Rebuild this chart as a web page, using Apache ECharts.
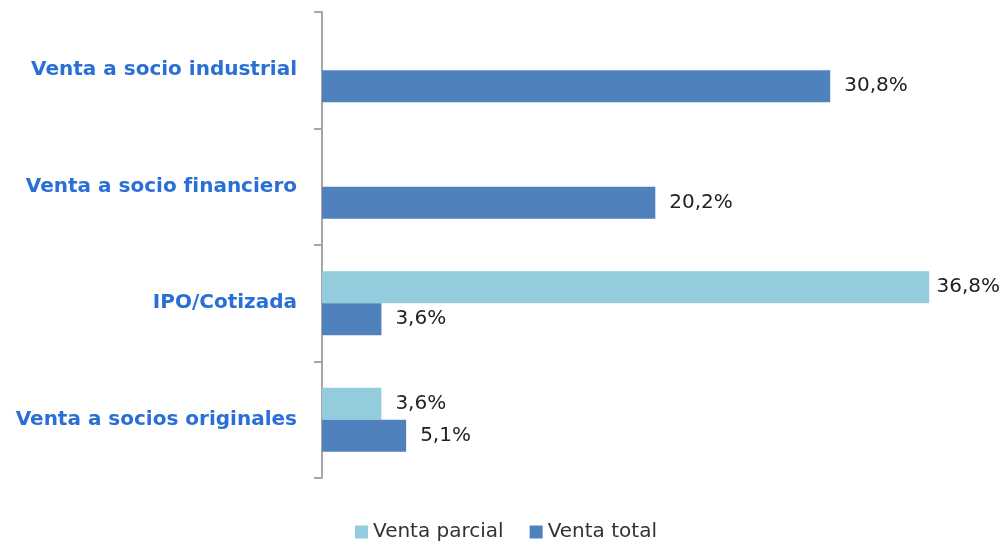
<!DOCTYPE html>
<html lang="es">
<head>
    <meta charset="utf-8">
    <title>Tipo de salida</title>
    <script src="https://cdn.jsdelivr.net/npm/echarts@6/dist/echarts.min.js"></script>
    <style>
        html, body { margin: 0; padding: 0; background: #fff; }
        #chart { width: 1002px; height: 541px; }
    </style>
</head>
<body>
    <div id="chart"></div>
    <script>
        // Data
        const categories = ['Venta a socio industrial', 'Venta a socio financiero', 'IPO/Cotizada', 'Venta a socios originales'];
        const ventaParcial = [null, null, 36.8, 3.6];
        const ventaTotal = [30.8, 20.2, 3.6, 5.1];

        const chart = echarts.init(document.getElementById('chart'));

        // percent with comma decimal
        const fmt = p => p.value == null ? '' : p.value.toFixed(1).replace('.', ',') + '%';

        const labelStyle = {
            show: true,
            position: 'right',
            distance: 14,
            formatter: fmt,
            color: '#222',
            fontFamily: 'DejaVu Sans',
            fontSize: 20
        };

        // keep labels inside the canvas, like Excel does for the long bar
        const keepInside = p => {
            const r = p.labelRect;
            if (r.x + r.width > 1000) {
                return { x: 1000 - r.width, y: r.y + r.height / 2, align: 'left', verticalAlign: 'middle' };
            }
            return {};
        };

        chart.setOption({
            animation: false,
            grid: { left: 322, right: 20, top: 12, bottom: 63 },
            legend: {
                top: 517,
                left: 350,
                itemWidth: 13,
                itemHeight: 13,
                itemGap: 26,
                icon: 'rect',
                textStyle: { fontFamily: 'DejaVu Sans', fontSize: 20, color: '#333' },
                data: ['Venta parcial', 'Venta total']
            },
            xAxis: {
                type: 'value',
                min: 0,
                max: 40,
                show: false
            },
            yAxis: {
                type: 'category',
                inverse: true,
                data: categories,
                axisLine: { show: true, lineStyle: { color: '#a6a6a6', width: 2 } },
                axisTick: { show: true, length: 8, lineStyle: { color: '#a6a6a6', width: 2 } },
                axisLabel: {
                    margin: 25,
                    color: '#2a6fd6',
                    fontWeight: 'bold',
                    fontFamily: 'DejaVu Sans',
                    fontSize: 20
                }
            },
            series: [
                {
                    name: 'Venta parcial',
                    type: 'bar',
                    data: ventaParcial,
                    barWidth: 32,
                    barGap: '0%',
                    itemStyle: { color: '#93cddd' },
                    label: labelStyle,
                    labelLayout: keepInside
                },
                {
                    name: 'Venta total',
                    type: 'bar',
                    data: ventaTotal,
                    barWidth: 32,
                    barGap: '0%',
                    itemStyle: { color: '#4f81bd' },
                    label: labelStyle,
                    labelLayout: keepInside
                }
            ]
        });

        window.addEventListener('resize', () => chart.resize());
    </script>
</body>
</html>
